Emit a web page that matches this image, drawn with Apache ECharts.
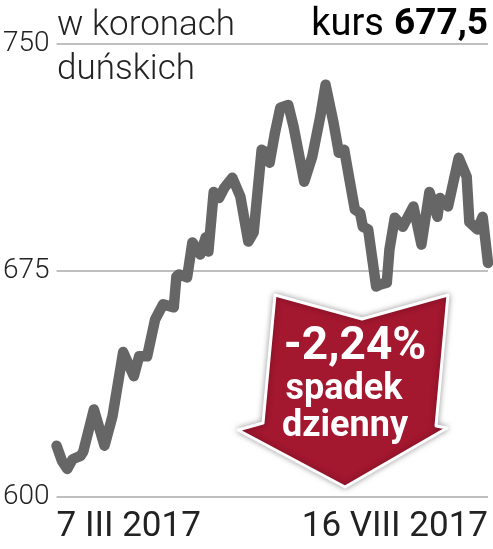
<!DOCTYPE html>
<html>
<head>
<meta charset="utf-8">
<script src="https://cdn.jsdelivr.net/npm/echarts@6/dist/echarts.min.js"></script>
<style>
  html, body { margin: 0; padding: 0; background: #fff; }
  #chart { width: 493px; height: 549px; }
</style>
</head>
<body>
<div id="chart"></div>
<script>
// dni od 7 III 2017 i kurs w koronach duńskich
const days = [0, 2, 4, 6, 9, 10, 14, 18, 21, 25, 29, 31, 34, 37, 40, 44, 45, 46, 49, 51, 54, 56, 57, 59, 61, 63, 66, 69, 72, 74, 77, 79, 80, 82, 84, 87, 89, 93, 96, 99, 101, 104, 106, 108, 110, 112, 114, 115, 117, 120, 122, 124, 125, 127, 130, 134, 137, 140, 143, 144, 147, 151, 154, 155, 158, 160, 162];
const prices = [617, 612, 609.3, 612.5, 613.6, 615, 629, 617, 626.8, 648, 640, 646.6, 646.6, 658.8, 663.8, 662.8, 673, 673.7, 672.7, 684.3, 680.3, 686, 681.3, 701, 699, 702.4, 705.7, 699.5, 684.6, 687.6, 715, 714, 710.7, 720.6, 728.9, 729.8, 722.6, 704.4, 712.7, 725.9, 736.5, 723.9, 714, 715, 705, 695.2, 694, 689.5, 688.6, 669.7, 670.5, 671, 682, 692.5, 689.5, 696.2, 683.6, 701, 692.8, 699, 696.2, 712.3, 706, 691, 688.6, 692.8, 677.5];
const xLabels = ["7 III 2017", "16 VIII 2017"];
const yTicks = [600, 675, 750];
const lastPrice = "677,5";
const change = "-2,24%";

const chart = echarts.init(document.getElementById("chart"));

chart.setOption({
  animation: false,
  grid: { left: 55, right: 5, top: 44, bottom: 52 },
  xAxis: {
    type: "value",
    min: days[0],
    max: days[days.length - 1],
    interval: days[days.length - 1],
    axisLine: { show: false },
    axisTick: { show: false },
    splitLine: { show: false },
    axisLabel: {
      margin: 13,
      fontFamily: "Roboto",
      fontSize: 35,
      color: "#222",
      alignMinLabel: "left",
      alignMaxLabel: "right",
      formatter: (v) => (v === days[0] ? xLabels[0] : v === days[days.length - 1] ? xLabels[1] : ""),
    },
  },
  yAxis: {
    type: "value",
    min: yTicks[0],
    max: yTicks[yTicks.length - 1],
    interval: yTicks[1] - yTicks[0],
    axisLine: { show: false },
    axisTick: { show: false },
    splitLine: { lineStyle: { color: "#aaa", width: 1.5 } },
    axisLabel: {
      margin: 7,
      fontFamily: "Roboto",
      fontWeight: 300,
      fontSize: 28,
      color: "#222",
    },
  },
  series: [
    {
      type: "line",
      data: days.map((d, i) => [d, prices[i]]),
      symbol: "none",
      lineStyle: { color: "#666", width: 10.5, cap: "round", join: "round" },
      z: 3,
    },
  ],
  graphic: [
    {
      type: "text",
      left: 57,
      top: 9,
      style: { text: "w koronach", font: "300 35px Roboto", fill: "#222" },
    },
    {
      type: "text",
      left: 57,
      top: 53,
      style: { text: "duńskich", font: "300 35px Roboto", fill: "#222" },
    },
    {
      type: "text",
      right: 5,
      top: 6,
      style: {
        text: "{a|kurs}   {b|" + lastPrice + "}",
        rich: {
          a: { fontFamily: "Roboto", fontSize: 38, color: "#222" },
          b: { fontFamily: "Roboto", fontWeight: "bold", fontSize: 37, color: "#222" },
        },
      },
    },
    {
      type: "polygon",
      z: 10,
      shape: {
        points: [[275, 295], [362, 319], [448, 295], [436, 426], [447, 428], [345, 487], [238, 430], [263, 423]],
      },
      style: {
        fill: "#a3172f",
        stroke: "#fff",
        lineWidth: 3,
        lineJoin: "round",
        shadowBlur: 6,
        shadowColor: "rgba(0,0,0,0.35)",
      },
    },
    {
      type: "text",
      z: 11,
      x: 355,
      y: 347,
      style: { text: change, font: "bold 46px Roboto", fill: "#fff", align: "center", verticalAlign: "middle" },
    },
    {
      type: "text",
      z: 11,
      x: 344,
      y: 390,
      style: { text: "spadek", font: "bold 36px Roboto", fill: "#fff", align: "center", verticalAlign: "middle" },
    },
    {
      type: "text",
      z: 11,
      x: 345,
      y: 427,
      style: { text: "dzienny", font: "bold 36px Roboto", fill: "#fff", align: "center", verticalAlign: "middle" },
    },
  ],
});
</script>
</body>
</html>
